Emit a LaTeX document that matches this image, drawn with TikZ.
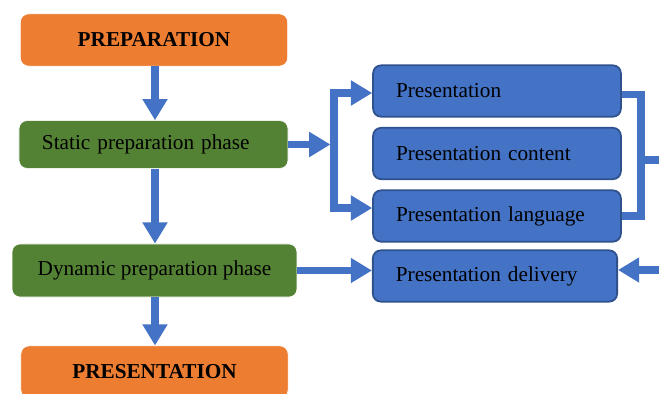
\documentclass[tikz,border=0pt]{standalone}
\usepackage{fontspec}
\setmainfont{Liberation Serif}
\usepackage{tikz}
\usetikzlibrary{positioning,arrows.meta,calc}
\definecolor{stageorange}{HTML}{ED7D31}
\definecolor{phasegreen}{HTML}{548235}
\definecolor{itemblue}{HTML}{4472C4}
\definecolor{itemborder}{HTML}{2F528F}
\tikzset{
  flowarrow/.style={-{Triangle[width=13.5pt,length=12pt]}, line width=4pt, itemblue},
  flowline/.style={line width=4pt, itemblue},
  stagenode/.style={draw=white, rounded corners=4.5pt, fill=stageorange, minimum width=151pt, minimum height=29.5pt, align=center, font=\fontsize{12}{14}\selectfont\bfseries},
  phasenode/.style={draw=white, rounded corners=4.5pt, fill=phasegreen, minimum height=27pt, align=center},
  itemnode/.style={draw=itemborder, line width=1pt, rounded corners=4.5pt, fill=itemblue, minimum height=29pt, inner xsep=13pt, align=left}
}
\begin{document}
\begin{tikzpicture}[x=0.565pt, y=-0.565pt, every node/.style={font=\fontsize{12}{14}\selectfont}]
      \useasboundingbox (0,0) rectangle (659,394);
      \node[stagenode] (prep) at (154,40) {PREPARATION};
      \node[phasenode, text width=126pt, inner xsep=13pt, align=left] (static) at (153.5,144.5) {Static preparation phase};
      \node[phasenode, minimum width=161pt, minimum height=30pt] (dynamic) at (154.5,270.5) {Dynamic preparation phase};
      \node[stagenode] (pres) at (154.5,372) {PRESENTATION};
      \node[itemnode, text width=114pt] (plain) at (497,91) {Presentation};
      \node[itemnode, text width=114pt] (content) at (497,153.5) {Presentation content};
      \node[itemnode, text width=114pt] (lang) at (497,216) {Presentation language};
      \node[itemnode, text width=112pt] (deliv) at (495,276) {Presentation delivery};
      % bracket points
      \coordinate (jtop) at (334,93);
      \coordinate (jmid) at (334,144.5);
      \coordinate (jbot) at (334,208);
      \coordinate (rx) at (641,160);
      \coordinate (redge) at (662,160);
      \coordinate (dedge) at (662,270);
      \coordinate (vx) at (155,0);
      \draw[flowarrow] (prep.south -| vx) -- (static.north -| vx);
      \draw[flowarrow] (static.south -| vx) -- (dynamic.north -| vx);
      \draw[flowarrow] (dynamic.south -| vx) -- (pres.north -| vx);
      \draw[flowarrow] (static.east) -- ([xshift=-2pt]jmid);
      \draw[flowline] (jtop) -- (jbot);
      \draw[flowarrow] ([xshift=-2pt]jtop) -- (jtop -| plain.west);
      \draw[flowarrow] ([xshift=-2pt]jbot) -- (jbot -| lang.west);
      \draw[flowline] ([yshift=-2pt]plain.east) -| (rx) |- (lang.east);
      \draw[flowline] (rx) -- (redge);
      \draw[flowarrow] (dedge) -- (dedge -| deliv.east);
      \draw[flowarrow] (dynamic.east) -- (dynamic.east -| deliv.west);
    \end{tikzpicture}
\end{document}
